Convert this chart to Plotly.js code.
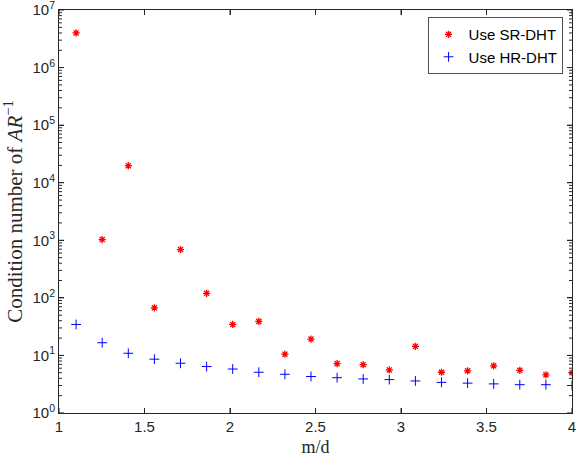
<!DOCTYPE html>
<html>
<head>
<meta charset="utf-8">
<script src="https://cdn.plot.ly/plotly-3.0.1.min.js"></script>
<style>html,body{margin:0;padding:0;background:#fff;}#chart{width:578px;height:460px;}</style>
</head>
<body>
<div id="chart"></div>
<script>
var mOverD = [1.1, 1.2526, 1.4053, 1.5579, 1.7105, 1.8632, 2.0158, 2.1684, 2.3211, 2.4737,
              2.6263, 2.7789, 2.9316, 3.0842, 3.2368, 3.3895, 3.5421, 3.6947, 3.8474, 4.0];
var condSR = [4.0e6, 1030, 19800, 67, 690, 120, 34.5, 39, 10.5, 19.2,
              7.2, 6.9, 5.6, 14.4, 5.1, 5.4, 6.6, 5.5, 4.6, 5.0];
var condHR = [34.5, 16.6, 10.9, 8.6, 7.3, 6.4, 5.8, 5.1, 4.7, 4.3,
              4.1, 3.9, 3.8, 3.6, 3.4, 3.3, 3.2, 3.1, 3.1, 3.0];
var seriesNames = ['Use SR-DHT', 'Use HR-DHT'];
var xTickVals = [1, 1.5, 2, 2.5, 3, 3.5, 4];
var xTickText = ['1', '1.5', '2', '2.5', '3', '3.5', '4'];
var yTickVals = [1, 10, 100, 1000, 1e4, 1e5, 1e6, 1e7];
var yTickText = ['10<sup>0</sup>', '10<sup>1</sup>', '10<sup>2</sup>', '10<sup>3</sup>',
                 '10<sup>4</sup>', '10<sup>5</sup>', '10<sup>6</sup>', '10<sup>7</sup>'];

var minorVals = [];
for (var e = 0; e < 7; e++) {
  for (var d = 2; d <= 9; d++) minorVals.push(d * Math.pow(10, e));
}

var axColor = '#262626';
var yRange = [-0.0005, 7.0005];

// tick marks drawn as pixel-sized shapes anchored to the axes
var shapes = [];
function xTick(v, side, len) {
  shapes.push({type: 'line', xref: 'x', yref: 'paper', ysizemode: 'pixel', yanchor: side,
               x0: v, x1: v, y0: 0, y1: side === 0 ? len : -len,
               line: {color: axColor, width: 1}});
}
function yTick(v, side, len) {
  shapes.push({type: 'line', yref: 'y', xref: 'paper', xsizemode: 'pixel', xanchor: side,
               y0: v, y1: v, x0: 0, x1: side === 0 ? len : -len,
               line: {color: axColor, width: 1}});
}
xTickVals.forEach(function (v) { xTick(v, 0, 5); xTick(v, 1, 5); });
yTickVals.forEach(function (v) { yTick(v, 0, 5); yTick(v, 1, 5); });
minorVals.forEach(function (v) { yTick(v, 0, 3); yTick(v, 1, 3); });

var traces = [
  {x: mOverD, y: condSR, name: seriesNames[0], type: 'scatter', mode: 'markers',
   marker: {symbol: 'asterisk-open', size: 6, color: 'red', line: {color: 'red', width: 1.3}}},
  {x: mOverD, y: condHR, name: seriesNames[1], type: 'scatter', mode: 'markers',
   marker: {symbol: 'cross-thin-open', size: 7, color: 'blue', line: {color: 'blue', width: 1}}}
];
var layout = {
  width: 578, height: 460,
  margin: {l: 59, r: 6, t: 10, b: 47, pad: 0},
  paper_bgcolor: '#fff', plot_bgcolor: '#fff',
  showlegend: true,
  shapes: shapes,
  legend: {x: 0.982, xanchor: 'right', y: 0.982, yanchor: 'top',
           bgcolor: '#fff', bordercolor: axColor, borderwidth: 0.8,
           font: {family: 'Liberation Sans, Arial, sans-serif', size: 15, color: '#000'},
           tracegroupgap: 0, itemwidth: 30},
  xaxis: {range: [1, 4], tickmode: 'array', tickvals: xTickVals, ticktext: xTickText,
          ticks: 'inside', ticklen: 5, tickcolor: axColor, tickwidth: 1,
          showline: true, linecolor: axColor, linewidth: 1, mirror: 'ticks',
          showgrid: false, zeroline: false,
          tickfont: {family: 'Liberation Sans, Arial, sans-serif', size: 15, color: axColor},
          title: {text: 'm/d', standoff: 6,
                  font: {family: 'Liberation Serif, DejaVu Serif, serif', size: 18, color: axColor}}},
  yaxis: {type: 'log', range: yRange, tickmode: 'array', tickvals: yTickVals, ticktext: yTickText,
          ticks: 'inside', ticklen: 5, tickcolor: axColor, tickwidth: 1,
          ticklabeloverflow: 'allow',
          showline: true, linecolor: axColor, linewidth: 1, mirror: 'ticks',
          showgrid: false, zeroline: false,
          tickfont: {family: 'Liberation Sans, Arial, sans-serif', size: 15, color: axColor},
          title: {text: 'Condition number of <i>AR</i><sup>−1</sup>', standoff: 4,
                  font: {family: 'Liberation Serif, DejaVu Serif, serif', size: 21, color: axColor}}}
};
Plotly.newPlot('chart', traces, layout, {displayModeBar: false, staticPlot: true});
</script>
</body>
</html>
